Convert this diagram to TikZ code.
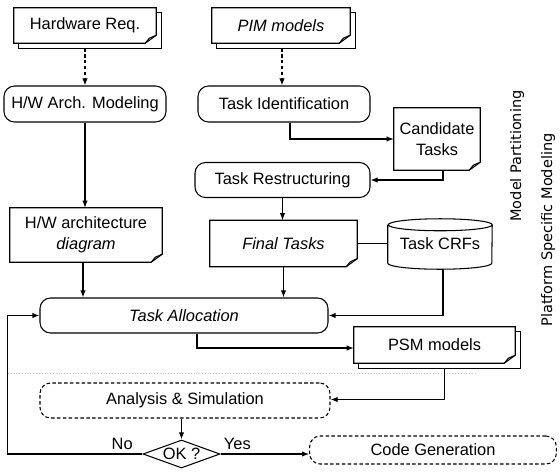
\documentclass[tikz,border=0pt]{standalone}
\usepackage{fontspec}
\setmainfont{Liberation Sans}
\newfontfamily\sidefont{DejaVu Sans}
\usepackage{tikz}
\usetikzlibrary{arrows.meta}
\usetikzlibrary{shapes.geometric}

\tikzset{
  box/.style={line width=0.9pt},
  task/.style={box, draw, rounded corners=9pt, inner sep=0pt, align=center},
  trial/.style={task, densely dashed},
  page/.style={inner sep=0pt, align=center},
  flow/.style={box, -{Latex[length=6pt,width=4.5pt]}},
  every node/.style={font=\fontsize{14}{17.5}\selectfont},
}

% sheet of paper with a turned-up corner
\newcommand\pageoutline[1]{%
  \draw[box] (#1.south west) -- (#1.north west) -- (#1.north east)
    -- ([shift={(0,-8)}]#1.south east) -- ([shift={(-11,0)}]#1.south east) -- cycle;
  \draw[box] ([shift={(-11,0)}]#1.south east) -- ([shift={(-7,-5)}]#1.south east)
    -- ([shift={(0,-8)}]#1.south east);
}
% same, with a second sheet behind it
\newcommand\pagestack[1]{%
  \pageoutline{#1}
  \draw[box] ([shift={(0,5)}]#1.north east) -- ([shift={(5,5)}]#1.north east)
    -- ([shift={(5,5)}]#1.south east) -- ([shift={(5,5)}]#1.south west)
    -- ([shift={(5,0)}]#1.south west);
}

\begin{document}
\begin{tikzpicture}[x=0.03cm, y=-0.03cm]
  \useasboundingbox (0,0) rectangle (560,474);

  \node (hwreq) [page, minimum width=4.26cm, minimum height=1.05cm] at (85,25.5) {Hardware Req.};
  \node (pim) [page, minimum width=4.14cm, minimum height=1.05cm] at (281,25.5) {\textit{PIM models}};
  \node (hwmod) [task, minimum width=4.86cm, minimum height=1.08cm] at (85,104) {H/W Arch. Modeling};
  \node (tid) [task, minimum width=5.16cm, minimum height=1.08cm] at (284,104) {Task Identification};
  \node (cand) [page, minimum width=2.58cm, minimum height=1.86cm] at (437,139) {Candidate\\Tasks};
  \node (tres) [task, minimum width=5.25cm, minimum height=1.05cm] at (282.5,180) {Task Restructuring};
  \node (hwdia) [page, minimum width=4.56cm, minimum height=1.62cm] at (86,235) {H/W architecture\\\textit{diagram}};
  \node (ftask) [page, minimum width=4.41cm, minimum height=1.38cm] at (283.5,243.5) {\textit{Final Tasks}};
  \node (crf) [page, minimum width=3.12cm, minimum height=1.5cm] at (440,244) {Task CRFs};
  \node (talloc) [task, minimum width=8.64cm, minimum height=1.05cm] at (184,315.5) {\textit{Task Allocation}};
  \node (psm) [page, minimum width=4.83cm, minimum height=1.08cm] at (434.5,345) {PSM models};
  \node (anasim) [trial, minimum width=8.7cm, minimum height=1.05cm] at (185,400.5) {Analysis \& Simulation};
  \node (ok) [box, draw, diamond, aspect=2.75, inner sep=0pt, minimum width=2.31cm, minimum height=0.84cm] at (181.5,454) {OK ?};
  \node (codegen) [trial, minimum width=7.4cm, minimum height=0.84cm] at (433,450) {Code Generation};

  \node (mpart) [rotate=90, font=\sidefont\fontsize{12.4}{15}\selectfont] at (517,156) {Model Partitioning};
  \node (psmod) [rotate=90, font=\sidefont\fontsize{12.4}{15}\selectfont] at (548,230) {Platform Specific Modeling};

  \pagestack{hwreq}
  \pagestack{pim}
  \pageoutline{cand}
  \pageoutline{hwdia}
  \pageoutline{ftask}
  \pagestack{psm}
  \draw[box] ([shift={(0,6)}]crf.north west) -- ([shift={(0,-6)}]crf.south west)
    arc[start angle=180, end angle=360, x radius=1.56cm, y radius=0.18cm]
    -- ([shift={(0,6)}]crf.north east)
    arc[start angle=0, end angle=360, x radius=1.56cm, y radius=0.18cm];

  \draw[gray!45, dotted] (8,373) -- (475,373);

  \draw[flow, densely dashed] ([shift={(0,5)}]hwreq.south) -- (hwmod.north);
  \draw[flow, densely dashed] ([shift={(1,5)}]pim.south) -- ([shift={(-2,0)}]tid.north);
  \draw[flow] ([shift={(6,0)}]tid.south) |- (cand.west);
  \draw[flow] ([shift={(6,0)}]cand.south) |- (tres.east);
  \draw[flow] (tres.south) -- (tres.south |- ftask.north);
  \draw[box] (ftask.east) -- (ftask.east -| crf.west);
  \draw[flow] ([shift={(3,0)}]crf.south) |- (talloc.east);
  \draw[flow] (hwmod.south) -- (hwmod.south |- hwdia.north);
  \draw[flow] ([shift={(-3,0)}]hwdia.south) -- ([shift={(-3,0)}]hwdia.south |- talloc.north);
  \draw[flow] (ftask.south) -- (ftask.south |- talloc.north);
  \draw[flow] ([shift={(13,0)}]talloc.south) |- ([shift={(0,3)}]psm.west);
  \draw[flow] ([shift={(10,5)}]psm.south) |- ([shift={(0,-1)}]anasim.east);
  \draw[flow] (anasim.south -| ok.north) -- (ok.north);
  \draw[flow] (ok.west) -- node (no) [pos=0.15, above] {No} +(-135,0) |- (talloc.west);
  \draw[flow] (ok.east) -- node (yes) [pos=0.19, above] {Yes} (ok.east -| codegen.west);
\end{tikzpicture}
\end{document}
